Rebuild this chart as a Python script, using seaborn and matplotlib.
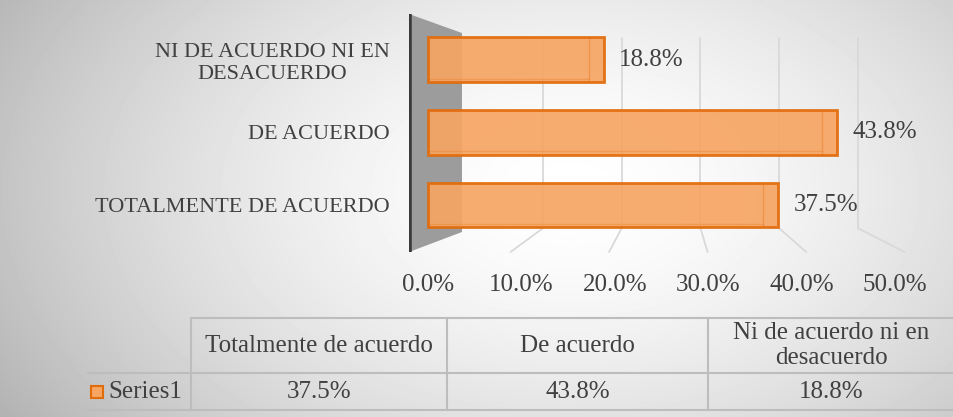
"""Bar chart of agreement levels with a data table underneath."""

import numpy as np
import pandas as pd
import seaborn as sns
import matplotlib.pyplot as plt
from matplotlib.patches import Polygon, Rectangle

# Data
categories = ['NI DE ACUERDO NI EN\nDESACUERDO', 'DE ACUERDO', 'TOTALMENTE DE ACUERDO']
values = [18.8, 43.8, 37.5]
table_headers = ['Totalmente de acuerdo', 'De acuerdo', 'Ni de acuerdo ni en\ndesacuerdo']
table_values = [37.5, 43.8, 18.8]
series_name = 'Series1'
x_ticks = [0, 10, 20, 30, 40, 50]

TXT = '#404040'
FACE = '#F7A563'
EDGE = '#E26B0A'
FONT = ['Liberation Serif', 'DejaVu Serif']

sns.set_theme(style='white')
plt.rcParams['font.family'] = FONT

W, H = 954, 417
fig = plt.figure(figsize=(W / 100, H / 100), dpi=100)

# Background - radial grey gradient
bg = fig.add_axes([0, 0, 1, 1], zorder=-10)
yy, xx = np.mgrid[0:H, 0:W]
r = np.sqrt(((xx - 570) / 520.0) ** 2 + ((yy - 190) / 330.0) ** 2)
shade = 1 - 0.2 * np.clip(r, 0, 1.3) ** 1.6
bg.imshow(shade, cmap='gray', vmin=0, vmax=1, aspect='auto', extent=[0, W, H, 0])
bg.axis('off')

# Main bar axes (pixel frame 409..895 x 14..252)
ax = fig.add_axes([409 / W, 1 - 252 / H, (895 - 409) / W, (252 - 14) / H])
ax.set_facecolor('none')

df = pd.DataFrame({'cat': categories, 'val': values})
sns.barplot(data=df, x='val', y='cat', order=categories, orient='h', ax=ax,
            color=FACE, width=0.62, edgecolor=EDGE, linewidth=2, alpha=0.92,
            saturation=1, zorder=3)

ax.set_xlim(-2.03, 50)
ax.set_ylim(2.648, -0.634)
ax.set_xlabel('')
ax.set_ylabel('')

# Fake depth: inner front-face edge near the end of each bar
for i, v in enumerate(values):
    ax.plot([v - 1.6, v - 1.6], [i - 0.29, i + 0.29], color=EDGE, lw=1, alpha=0.35, zorder=4)
    ax.plot([0, v - 1.6], [i + 0.26, i + 0.26], color=EDGE, lw=1, alpha=0.25, zorder=4)

# Side wall and axis line
wall = Polygon([[0, 0], [0, 1], [0.109, 0.92], [0.109, 0.084]], closed=True,
               transform=ax.transAxes, facecolor='#9c9c9c', edgecolor='none', zorder=1)
ax.add_patch(wall)
ax.plot([0, 0], [0, 1], transform=ax.transAxes, color='#3a3a3a', lw=4,
        solid_capstyle='butt', zorder=2)

# Gridlines on the back wall plus slanted floor lines (perspective look)
xt = ax.get_xaxis_transform()
for t in x_ticks[1:]:
    back = 3.88 + 0.843 * t
    front = -1.71 + 1.055 * t
    ax.plot([back, back], [0.1, 0.9], transform=xt, color='#d9d9d9', lw=1.3, zorder=0)
    ax.plot([back, front], [0.1, 0.0], transform=xt, color='#d9d9d9', lw=1.3, zorder=0,
            clip_on=False)

for s in ax.spines.values():
    s.set_visible(False)

ax.set_xticks(x_ticks)
ax.set_xticklabels([f'{t:.1f}%' for t in x_ticks], fontsize=18, color=TXT)
ax.tick_params(axis='x', length=0, pad=16)
ax.tick_params(axis='y', length=0, pad=14, labelsize=16, labelcolor=TXT)
for lbl in ax.get_yticklabels():
    lbl.set_multialignment('center')

ax.bar_label(ax.containers[0], labels=[f'{v:.1f}%' for v in values],
             padding=11, fontsize=18, color=TXT)

# Data table
ov = fig.add_axes([0, 0, 1, 1], zorder=5)
ov.set_xlim(0, W)
ov.set_ylim(H, 0)
ov.axis('off')

col_x = [191, 447, 708, 954]
top, mid, bot = 318, 373, 410
line_kw = dict(color='#bdbdbd', lw=1.5)
ov.plot([191, W], [top, top], **line_kw)
ov.plot([88, W], [mid, mid], **line_kw)
ov.plot([88, W], [bot, bot], **line_kw)
for x in col_x[:-1]:
    ov.plot([x, x], [top, bot], **line_kw)

for i, (hdr, v) in enumerate(zip(table_headers, table_values)):
    cx = (col_x[i] + col_x[i + 1]) / 2
    ov.text(cx, (top + mid) / 2, hdr, ha='center', va='center', fontsize=18,
            color=TXT, multialignment='center', linespacing=1.15)
    ov.text(cx, (mid + bot) / 2, f'{v:.1f}%', ha='center', va='center',
            fontsize=18, color=TXT)

ov.add_patch(Rectangle((91, 386), 12, 12, facecolor=FACE, edgecolor=EDGE, lw=1.5))
ov.text(108, (mid + bot) / 2, series_name, ha='left', va='center', fontsize=18, color=TXT)

fig.savefig('out.png', dpi=100)
